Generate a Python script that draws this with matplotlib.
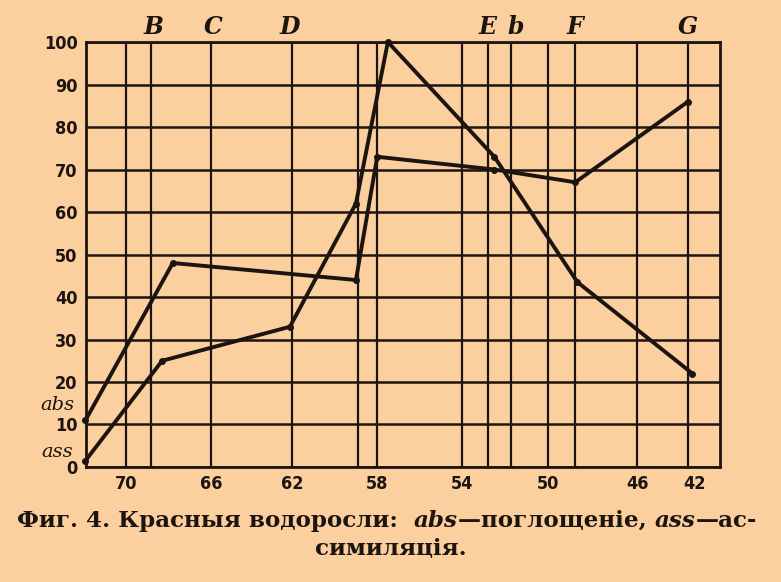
import matplotlib.pyplot as plt
from matplotlib.transforms import blended_transform_factory

# --- data (x in tens of nm, wavelength decreasing to the right) ---
abs_x = [71.9, 67.8, 59.2, 58.2, 52.7, 48.9, 43.6]
abs_y = [11, 48, 44, 73, 70, 67, 86]
ass_x = [71.9, 68.3, 62.3, 59.2, 57.7, 52.7, 48.8, 43.4]
ass_y = [1.5, 25, 33, 62, 100, 73, 43.5, 22]

tick_pos = [70, 66, 62.2, 58.2, 54.2, 50.2, 46, 43.3]
tick_lbl = ['70', '66', '62', '58', '54', '50', '46', '42']
grid_x = [70, 68.8, 66, 62.2, 59.1, 58.2, 54.2, 53.0, 51.9, 50.2, 48.9, 46, 43.6]
fraun_lbl = ['B', 'C', 'D', 'E', 'b', 'F', 'G']
fraun_x = [68.7, 65.9, 62.3, 53.0, 51.7, 48.9, 43.6]
y_ticks = list(range(0, 101, 10))

bg = '#fcd09e'
ink = '#1c1410'

fig = plt.figure(figsize=(7.81, 5.82), dpi=100, facecolor=bg)
ax = fig.add_axes([0.110, 0.1976, 0.812, 0.7302])
ax.set_facecolor(bg)
ax.set_xlim(71.88, 42.1)
ax.set_ylim(0, 100)

# grid
for gx in grid_x:
    ax.axvline(gx, color=ink, lw=1.6, zorder=1)
for gy in y_ticks:
    ax.axhline(gy, color=ink, lw=1.8, zorder=1)
for s in ax.spines.values():
    s.set_color(ink)
    s.set_linewidth(2)

# curves
ax.plot(abs_x, abs_y, color=ink, lw=2.8, marker='o', ms=4, zorder=3, clip_on=False)
ax.plot(ass_x, ass_y, color=ink, lw=2.8, marker='o', ms=4, zorder=3, clip_on=False)

# ticks
ax.set_xticks(tick_pos)
ax.set_xticklabels(tick_lbl)
ax.set_yticks(y_ticks)
ax.tick_params(length=0, colors=ink, labelsize=13, pad=6)
for t in ax.get_xticklabels() + ax.get_yticklabels():
    t.set_fontweight('bold')
    t.set_family('DejaVu Sans')
    t.set_fontstretch('condensed')

# Fraunhofer letters over the top
for lx, lb in zip(fraun_x, fraun_lbl):
    ax.text(lx, 103.5, lb, ha='center', va='center', fontsize=17,
            family='DejaVu Serif', style='italic', fontweight='bold',
            color=ink, clip_on=False)

# curve names at the left
tr = blended_transform_factory(ax.transAxes, ax.transData)
ax.text(-0.045, 14.5, 'abs', transform=tr, ha='center', va='center',
        fontsize=14, style='italic', family='DejaVu Serif', color=ink)
ax.text(-0.045, 3.5, 'ass', transform=tr, ha='center', va='center',
        fontsize=14, style='italic', family='DejaVu Serif', color=ink)

# caption
pieces = [('Фиг. 4. Красныя водоросли:  ', 'normal'), ('abs', 'italic'),
          ('—поглощенiе, ', 'normal'), ('ass', 'italic'), ('—ас-', 'normal')]
cap_kw = dict(fontsize=16.6, family='DejaVu Serif', fontweight='bold', color=ink)
prev = fig.text(0.022, 0.086, pieces[0][0], ha='left', va='bottom', **cap_kw)
for txt, st in pieces[1:]:
    prev = ax.annotate(txt, xy=(1, 0), xycoords=prev, ha='left', va='bottom',
                       style=st, annotation_clip=False, **cap_kw)
fig.text(0.5, 0.057, 'симиляцiя.', ha='center', va='center', **cap_kw)

fig.savefig('out.png', dpi=100, facecolor=bg)
